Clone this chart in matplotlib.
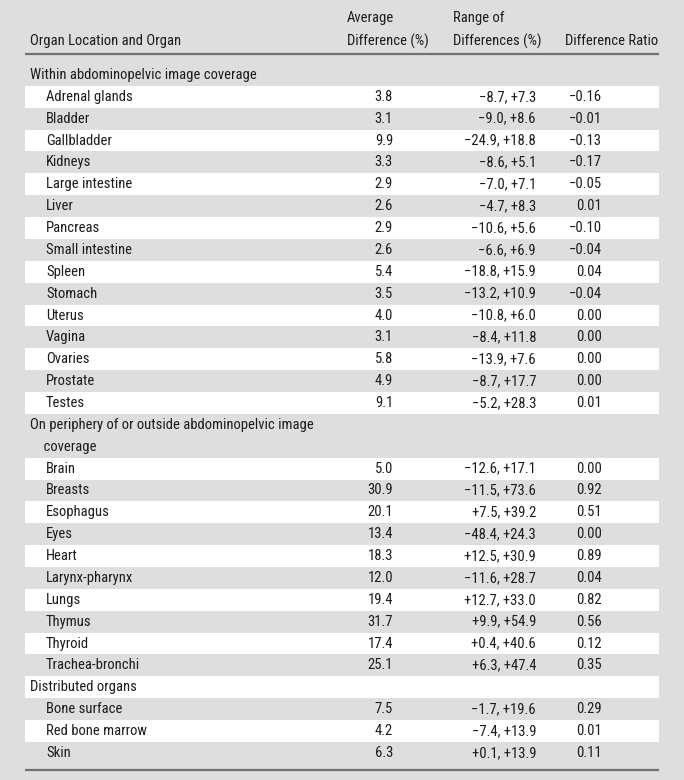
import matplotlib
matplotlib.use("Agg")
import matplotlib.pyplot as plt
from matplotlib import font_manager

# ---------------- data ----------------
col_headers = ["Organ Location and Organ", "Average\nDifference (%)",
               "Range of\nDifferences (%)", "Difference Ratio"]

section_titles = ["Within abdominopelvic image coverage",
                  "On periphery of or outside abdominopelvic image\n    coverage",
                  "Distributed organs"]

organs_within = ["Adrenal glands", "Bladder", "Gallbladder", "Kidneys", "Large intestine",
                 "Liver", "Pancreas", "Small intestine", "Spleen", "Stomach", "Uterus",
                 "Vagina", "Ovaries", "Prostate", "Testes"]
avg_within = ["3.8", "3.1", "9.9", "3.3", "2.9", "2.6", "2.9", "2.6", "5.4", "3.5", "4.0",
              "3.1", "5.8", "4.9", "9.1"]
range_within = ["−8.7, +7.3", "−9.0, +8.6", "−24.9, +18.8", "−8.6, +5.1", "−7.0, +7.1",
                "−4.7, +8.3", "−10.6, +5.6", "−6.6, +6.9", "−18.8, +15.9", "−13.2, +10.9",
                "−10.8, +6.0", "−8.4, +11.8", "−13.9, +7.6", "−8.7, +17.7", "−5.2, +28.3"]
ratio_within = ["−0.16", "−0.01", "−0.13", "−0.17", "−0.05", "0.01", "−0.10", "−0.04",
                "0.04", "−0.04", "0.00", "0.00", "0.00", "0.00", "0.01"]

organs_periph = ["Brain", "Breasts", "Esophagus", "Eyes", "Heart", "Larynx-pharynx",
                 "Lungs", "Thymus", "Thyroid", "Trachea-bronchi"]
avg_periph = ["5.0", "30.9", "20.1", "13.4", "18.3", "12.0", "19.4", "31.7", "17.4", "25.1"]
range_periph = ["−12.6, +17.1", "−11.5, +73.6", "+7.5, +39.2", "−48.4, +24.3",
                "+12.5, +30.9", "−11.6, +28.7", "+12.7, +33.0", "+9.9, +54.9",
                "+0.4, +40.6", "+6.3, +47.4"]
ratio_periph = ["0.00", "0.92", "0.51", "0.00", "0.89", "0.04", "0.82", "0.56", "0.12", "0.35"]

organs_dist = ["Bone surface", "Red bone marrow", "Skin"]
avg_dist = ["7.5", "4.2", "6.3"]
range_dist = ["−1.7, +19.6", "−7.4, +13.9", "+0.1, +13.9"]
ratio_dist = ["0.29", "0.01", "0.11"]

groups = [(section_titles[0], organs_within, avg_within, range_within, ratio_within),
          (section_titles[1], organs_periph, avg_periph, range_periph, ratio_periph),
          (section_titles[2], organs_dist, avg_dist, range_dist, ratio_dist)]

# ---------------- style ----------------
W, H = 684, 780
BG = "#dedede"
TXT = "#1c1c1c"
LINE = "#707070"
avail = {f.name for f in font_manager.fontManager.ttflist}
fam = [f for f in ["Roboto Condensed", "Archivo Narrow", "PT Sans Narrow",
                   "Liberation Sans", "DejaVu Sans"] if f in avail]
plt.rcParams["font.family"] = fam
FS = 10.5

fig = plt.figure(figsize=(W / 100, H / 100), dpi=100, facecolor=BG)
ax = fig.add_axes([0, 0, 1, 1])
ax.set_xlim(0, W)
ax.set_ylim(H, 0)
ax.axis("off")
ax.set_facecolor(BG)

X0, X1 = 25, 659
x_sec, x_org = 30, 46
x_avg_r, x_rng_r, x_rat_r = 393, 536, 602
x_avg_h, x_rng_h, x_rat_h = 347, 453, 565

# header
ax.text(x_sec, 41, col_headers[0], ha="left", va="center", fontsize=FS, color=TXT)
ax.text(x_avg_h, 30, col_headers[1], ha="left", va="center", fontsize=FS, color=TXT,
        linespacing=1.75)
ax.text(x_rng_h, 30, col_headers[2], ha="left", va="center", fontsize=FS, color=TXT,
        linespacing=1.75)
ax.text(x_rat_h, 41, col_headers[3], ha="left", va="center", fontsize=FS, color=TXT)
ax.plot([X0, X1], [53.5, 53.5], color=LINE, lw=1.6, solid_capstyle="butt")

rh = 21.87
y_top = 64.0
line_idx = 0
logical = 0
for title, organs, avgs, rngs, rats in groups:
    nlines = title.count("\n") + 1
    y0 = y_top + line_idx * rh
    if logical % 2 == 1:
        ax.add_patch(plt.Rectangle((X0, y0), X1 - X0, nlines * rh, color="white", lw=0))
    ax.text(x_sec, y0 + nlines * rh / 2, title, ha="left", va="center", fontsize=FS,
            color=TXT, linespacing=1.75)
    line_idx += nlines
    logical += 1
    for org, a, r, q in zip(organs, avgs, rngs, rats):
        y0 = y_top + line_idx * rh
        yc = y0 + rh / 2
        if logical % 2 == 1:
            ax.add_patch(plt.Rectangle((X0, y0), X1 - X0, rh, color="white", lw=0))
        ax.text(x_org, yc, org, ha="left", va="center", fontsize=FS, color=TXT)
        ax.text(x_avg_r, yc, a, ha="right", va="center", fontsize=FS, color=TXT)
        ax.text(x_rng_r, yc, r, ha="right", va="center", fontsize=FS, color=TXT)
        ax.text(x_rat_r, yc, q, ha="right", va="center", fontsize=FS, color=TXT)
        line_idx += 1
        logical += 1

ax.plot([X0, X1], [770, 770], color=LINE, lw=1.6, solid_capstyle="butt")

fig.savefig("out.png", dpi=100, facecolor=BG)
